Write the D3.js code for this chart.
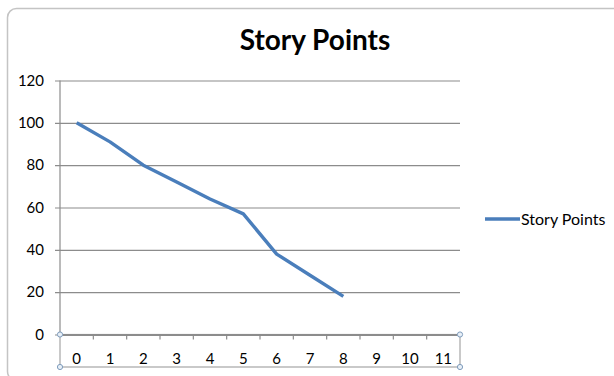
<!DOCTYPE html>
<html>
<head>
<meta charset="utf-8">
<script src="https://cdn.jsdelivr.net/npm/d3@7/dist/d3.min.js"></script>
<style>
  html, body { margin: 0; padding: 0; background: #fff; }
  svg { display: block; }
  text { font-family: Lato, "Open Sans", "DejaVu Sans", sans-serif; fill: #000; }
</style>
</head>
<body>
<svg id="chart" width="614" height="376"></svg>
<script>
// Sprint burndown: remaining story points per day
const categories = [0, 1, 2, 3, 4, 5, 6, 7, 8, 9, 10, 11];
const storyPoints = [100, 91, 80, 72, 64, 57, 38, 28, 18];
const yTicks = [0, 20, 40, 60, 80, 100, 120];
const seriesName = "Story Points";
const chartTitle = "Story Points";

const svg = d3.select("#chart");
const plot = { left: 60, right: 460, top: 80.5, bottom: 334.5 };
const labelFont = "Lato, 'Open Sans', sans-serif";

// chart frame with rounded corners
svg.append("rect")
  .attr("x", 7.5).attr("y", 8.5)
  .attr("width", 630).attr("height", 372)
  .attr("rx", 9).attr("ry", 9)
  .attr("fill", "#fff")
  .attr("stroke", "#c4c4c4")
  .attr("stroke-width", 1.5);

const x = d3.scaleBand()
  .domain(categories)
  .range([plot.left, plot.right])
  .padding(0);

const y = d3.scaleLinear()
  .domain([0, 120])
  .range([plot.bottom, plot.top]);

// horizontal gridlines with value axis
const yAxis = d3.axisLeft(y)
  .tickValues(yTicks)
  .tickSize(-(plot.right - plot.left) - 5)
  .tickPadding(11)
  .tickFormat(d3.format("d"));

const gy = svg.append("g")
  .attr("transform", `translate(${plot.left - 5},0)`)
  .call(yAxis);
gy.select(".domain").remove();
gy.selectAll(".tick line")
  .attr("stroke", "#8c8c8c")
  .attr("stroke-width", 1.2);
gy.selectAll(".tick text")
  .attr("font-size", 15)
  .attr("font-family", labelFont)
  .attr("fill", "#000");

// vertical value-axis line
svg.append("line")
  .attr("x1", plot.left).attr("x2", plot.left)
  .attr("y1", plot.top).attr("y2", plot.bottom)
  .attr("stroke", "#8c8c8c")
  .attr("stroke-width", 1.2);

// category axis selection box
const boxBottom = 367;
svg.append("rect")
  .attr("x", plot.left).attr("y", plot.bottom)
  .attr("width", plot.right - plot.left)
  .attr("height", boxBottom - plot.bottom)
  .attr("fill", "none")
  .attr("stroke", "#a6a6a6")
  .attr("stroke-width", 1.2);

// category axis
const xAxis = d3.axisBottom(x)
  .tickSize(0)
  .tickPadding(19);
const gx = svg.append("g")
  .attr("transform", `translate(0,${plot.bottom})`)
  .call(xAxis);
gx.select(".domain")
  .attr("stroke", "#8c8c8c")
  .attr("stroke-width", 2.2);
gx.selectAll(".tick text")
  .attr("font-size", 15)
  .attr("font-family", labelFont)
  .attr("fill", "#000");

// tick marks between categories
svg.append("g")
  .selectAll("line")
  .data(categories.slice(1))
  .join("line")
  .attr("x1", d => x(d)).attr("x2", d => x(d))
  .attr("y1", plot.bottom).attr("y2", plot.bottom + 5)
  .attr("stroke", "#8c8c8c")
  .attr("stroke-width", 1.2);

// selection handles
const handles = [
  [plot.left, plot.bottom], [plot.right, plot.bottom],
  [plot.left, boxBottom], [plot.right, boxBottom]
];
svg.append("g")
  .selectAll("circle")
  .data(handles)
  .join("circle")
  .attr("cx", d => d[0]).attr("cy", d => d[1])
  .attr("r", 2.6)
  .attr("fill", "#e8f0f8")
  .attr("stroke", "#7f9cbc")
  .attr("stroke-width", 1);

// series line
const line = d3.line()
  .x((d, i) => x(categories[i]) + x.bandwidth() / 2)
  .y(d => y(d));
svg.append("path")
  .datum(storyPoints)
  .attr("d", line)
  .attr("fill", "none")
  .attr("stroke", "#4a7ebb")
  .attr("stroke-width", 3.4)
  .attr("stroke-linejoin", "round");

// title
svg.append("text")
  .attr("x", 315).attr("y", 50)
  .attr("text-anchor", "middle")
  .attr("font-size", 28)
  .attr("font-weight", "bold")
  .text(chartTitle);

// legend
const legend = svg.append("g").attr("transform", "translate(485,219)");
legend.append("line")
  .attr("x1", 0).attr("x2", 35)
  .attr("y1", 0).attr("y2", 0)
  .attr("stroke", "#4a7ebb")
  .attr("stroke-width", 3.4);
legend.append("text")
  .attr("x", 36).attr("y", 5.5)
  .attr("font-size", 16)
  .text(seriesName);
</script>
</body>
</html>
